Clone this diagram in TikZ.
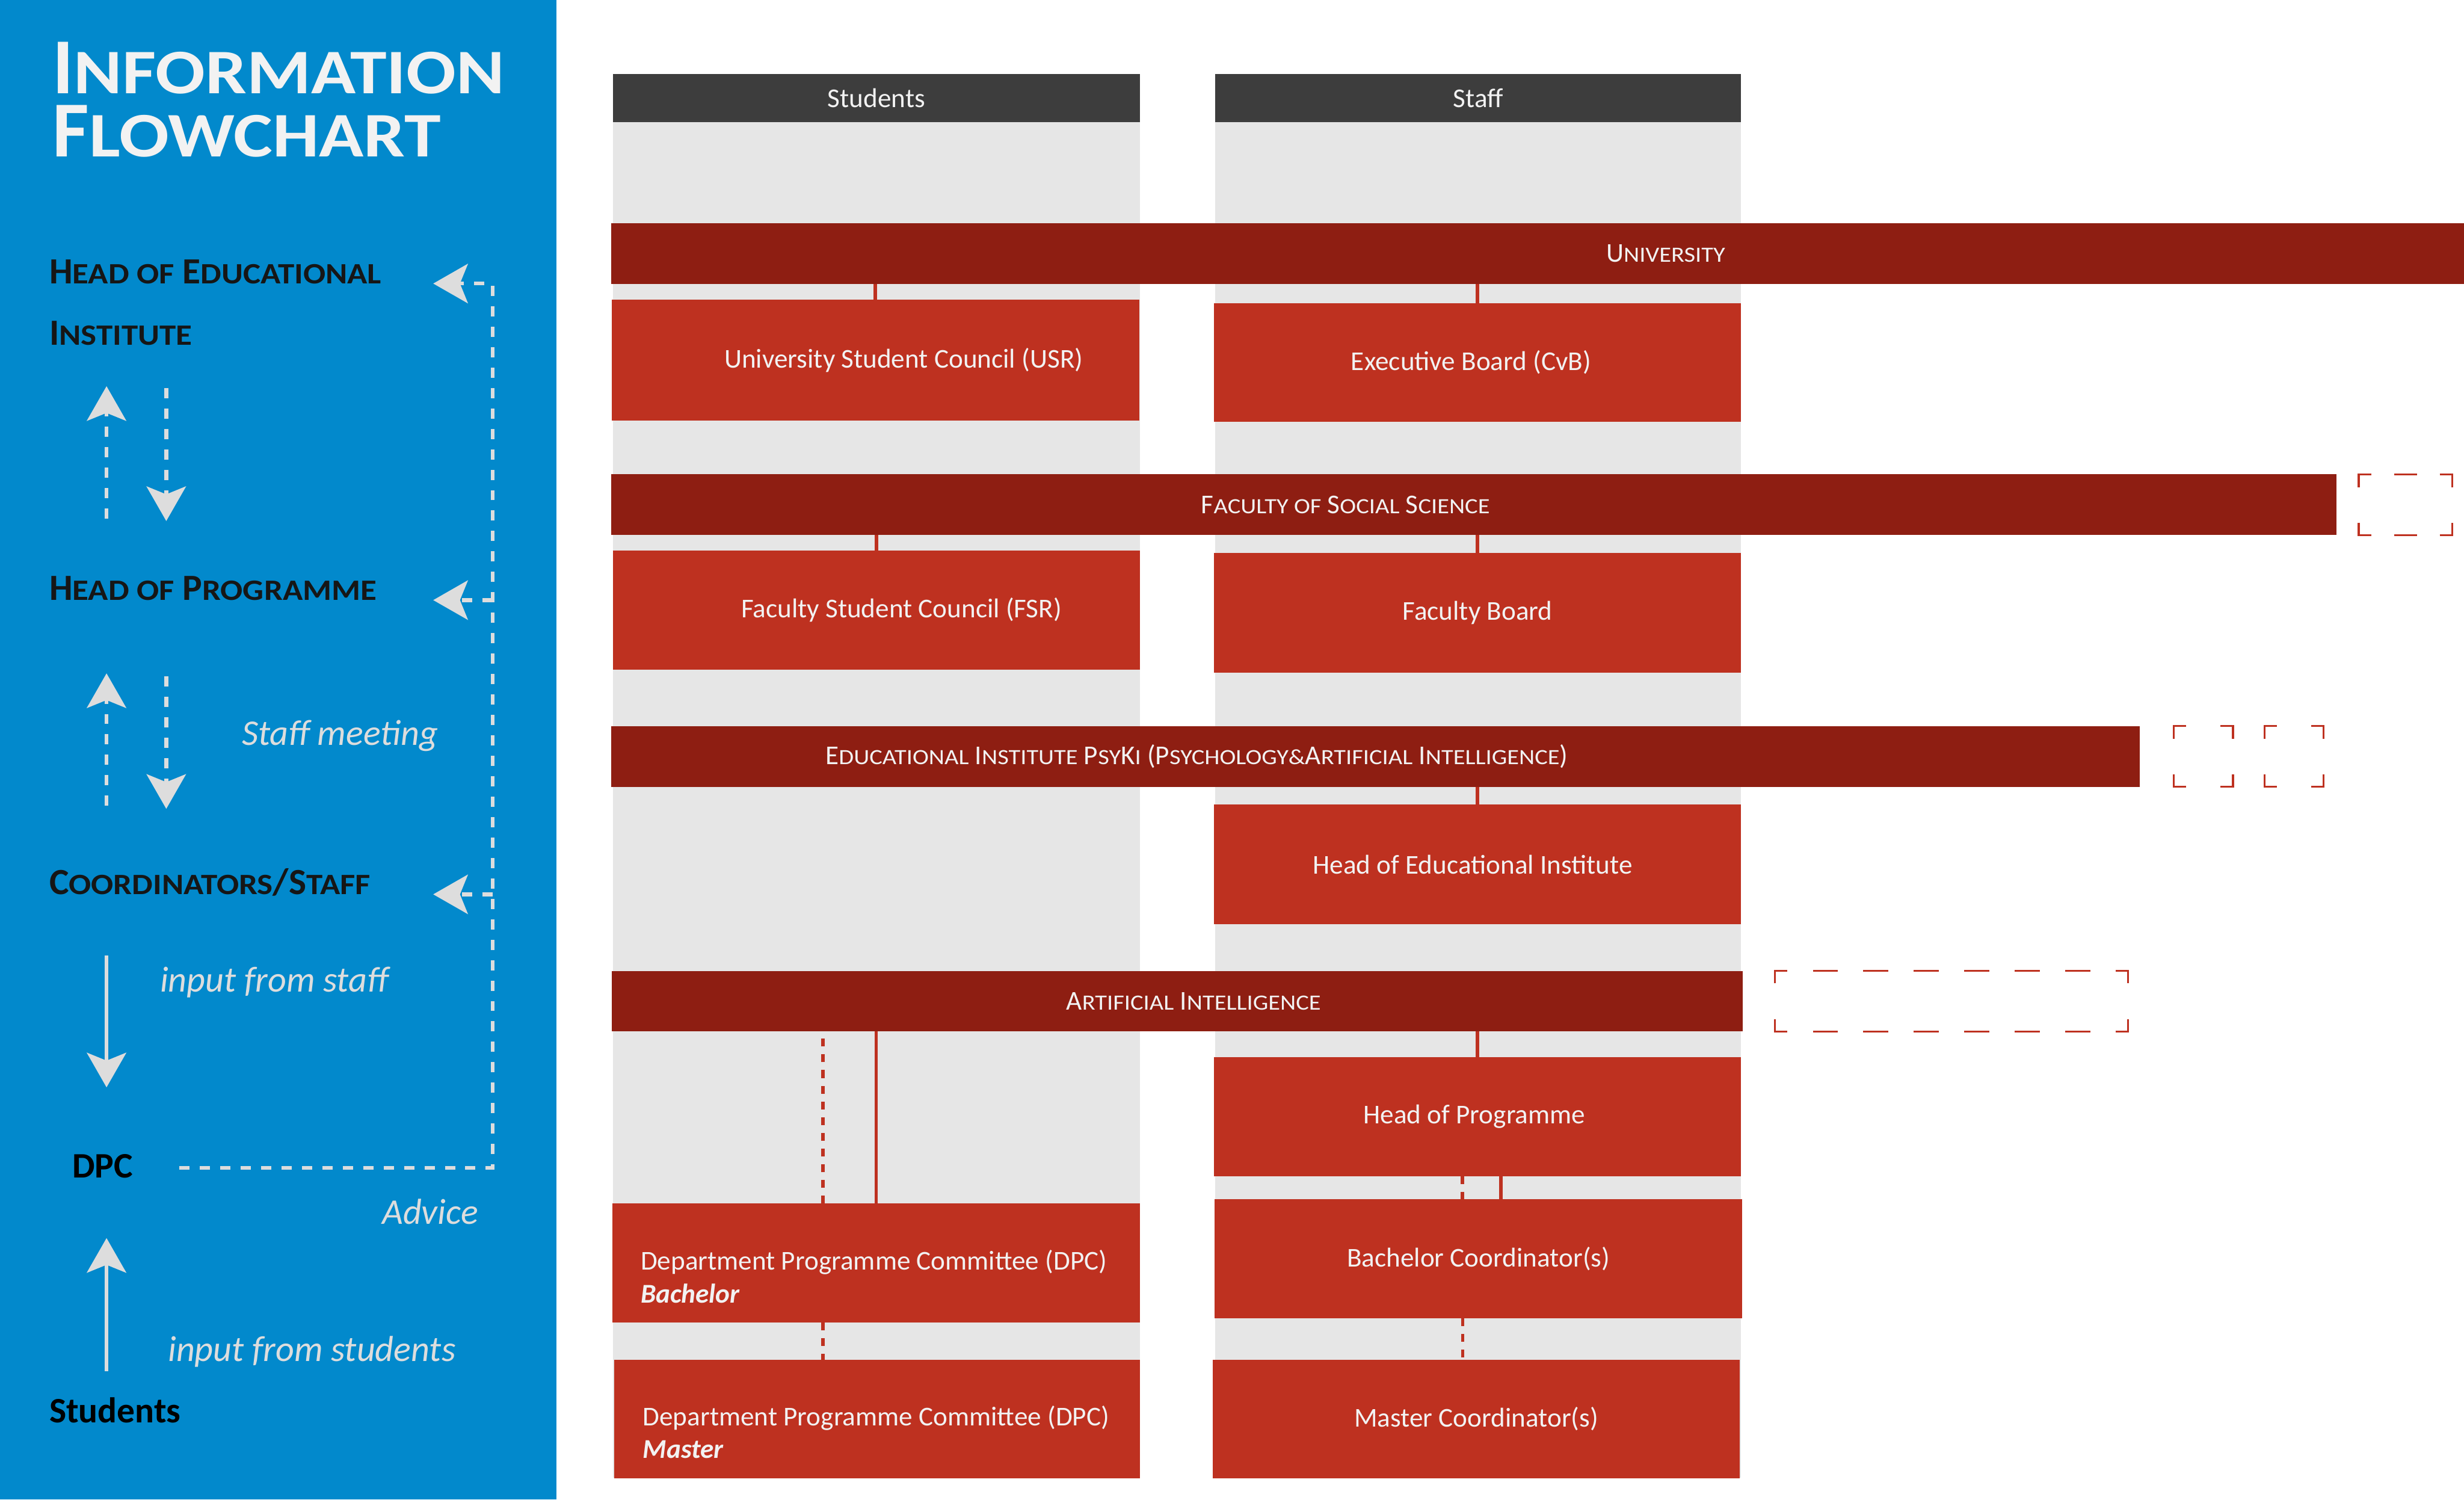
\documentclass[tikz,border=0pt]{standalone}
\usepackage{fontspec}
\setmainfont{Carlito}
\newfontfamily\scfont[FakeStretch=1.12]{Carlito}
\newfontfamily\scfontT[FakeStretch=1.16]{Carlito}
\usetikzlibrary{arrows.meta}
\makeatletter
\newcommand\SC[2]{#1{\scfont\fontsize{\fpeval{0.8*\f@size}}{\fpeval{0.8*\f@size}}\selectfont #2}}
\newcommand\SCT[2]{#1{\scfontT\fontsize{\fpeval{0.8*\f@size}}{20.24}\selectfont #2}}
\makeatother
\definecolor{cBlue}{HTML}{0289CC}
\definecolor{cBar}{HTML}{8E1E12}
\definecolor{cBox}{HTML}{BE3120}
\definecolor{cCol}{HTML}{E6E6E6}
\definecolor{cHdr}{HTML}{3D3D3D}
\definecolor{cTxt}{HTML}{F2F2F2}
\definecolor{cArr}{HTML}{DDDDDD}
\definecolor{cHead}{HTML}{161616}
\newcommand\phcorners[4]{%
  \draw[ph] (#1,{#2+8}) -- (#1,#2) -- ({#1+8},#2);
  \draw[ph] ({#3-8},#2) -- (#3,#2) -- (#3,{#2+8});
  \draw[ph] (#1,{#4-8}) -- (#1,#4) -- ({#1+8},#4);
  \draw[ph] ({#3-8},#4) -- (#3,#4) -- (#3,{#4-8});}
\begin{document}
\begin{tikzpicture}[x=1pt,y=-1pt,
  boxfont/.style={font=\fontsize{17.3}{20}\selectfont},
  colhead/.style={fill=cHdr, text=cTxt, inner sep=0pt, outer sep=0pt, boxfont},
  barn/.style={fill=cBar, inner sep=0pt, outer sep=0pt, minimum height=38.6},
  bartxt/.style={text=cTxt, inner sep=0pt, boxfont},
  rboxn/.style={fill=cBox, text=cTxt, inner sep=0pt, outer sep=0pt, boxfont, minimum width=335.5, minimum height=75.6},
  dpctxt/.style={text=cTxt, inner sep=0pt, anchor=base west, boxfont},
  con/.style={draw=cBox, line width=2.2pt},
  cond/.style={con, dash pattern=on 5pt off 5pt},
  ph/.style={draw=cBox, line width=1.2pt},
  ttl/.style={text=cTxt, inner sep=0pt, anchor=base west, font=\bfseries\fontsize{50.5}{25.3}\selectfont},
  hd/.style={text=cHead, inner sep=0pt, anchor=base west, font=\bfseries\fontsize{23.5}{24}\selectfont},
  hdb/.style={text=black, inner sep=0pt, anchor=base west, font=\bfseries\fontsize{22.8}{24}\selectfont},
  itl/.style={text=cArr, inner sep=0pt, anchor=base west, font=\itshape\fontsize{23}{24}\selectfont},
  arr/.style={draw=cArr, line width=2.4pt, -{Stealth[length=22pt,width=25pt,inset=5pt]}},
  arrd/.style={arr, dash pattern=on 6.5pt off 6.5pt}
]
\useasboundingbox (0,0) rectangle (1568,954);
\fill[white] (0,0) rectangle (1568,954);
\fill[cBlue] (0,0) rectangle (354,954);

% columns
\fill[cCol] (390,77.6) rectangle (725.5,940);
\fill[cCol] (773.3,77.6) rectangle (1108,940);
\node[colhead, minimum width=335.5, minimum height=30.7] (hstu) at (557.75,62.25) {Students};
\node[colhead, minimum width=334.7, minimum height=30.7] (hsta) at (940.65,62.25) {Staff};

% bars
\node[barn, minimum width=1179, label={[bartxt, xshift=81.5pt]center:\SC{U}{NIVERSITY}}] (uni) at (978.5,161.3) {};
\node[barn, minimum width=1097.7, label={[bartxt, xshift=-81.6pt]center:\SC{F}{ACULTY OF} \SC{S}{OCIAL} \SC{S}{CIENCE}}] (fac) at (937.85,321.1) {};
\node[barn, minimum width=972.5, label={[bartxt, xshift=-113.7pt]center:\SC{E}{DUCATIONAL} \SC{I}{NSTITUTE} \SC{P}{SY}\SC{K}{I} (\SC{P}{SYCHOLOGY\&}\SC{A}{RTIFICIAL} \SC{I}{NTELLIGENCE})}] (edu) at (875.25,481.25) {};
\node[barn, minimum width=719.5, label={[bartxt, xshift=10.3pt]center:\SC{A}{RTIFICIAL} \SC{I}{NTELLIGENCE}}] (ai) at (749.25,637) {};

% boxes
\node[rboxn, minimum height=77] (usr) at (557.1,229) {\hspace*{36pt}\raisebox{-5pt}{University Student Council (USR)}};
\node[rboxn] (cvb) at (940.2,230.6) {Executive Board (CvB)\hspace*{8pt}};
\node[rboxn] (fsr) at (557.7,388.2) {\hspace*{32pt}Faculty Student Council (FSR)};
\node[rboxn, minimum height=75.9] (fb) at (940.2,389.9) {Faculty Board};
\node[rboxn, minimum height=76] (hoei) at (940.2,550) {Head of Educational Institute\hspace*{6pt}};
\node[rboxn] (hop) at (940.2,710.4) {Head of Programme\hspace*{4pt}};
\node[rboxn] (bc) at (940.8,800.8) {Bachelor Coordinator(s)};
\node[rboxn] (mc) at (939.4,902.8) {Master Coordinator(s)};
\node[rboxn] (dpcb) at (557.6,803.6) {};
\node[rboxn, minimum width=334.6] (dpcm) at (558.3,902.8) {};
\node[dpctxt] (dpcb1) at (407.5,808) {Department Programme Committee (DPC)};
\node[dpctxt, font=\bfseries\itshape\fontsize{17.3}{20}\selectfont] (dpcb2) at (407.5,829) {Bachelor};
\node[dpctxt] (dpcm1) at (408.9,907) {Department Programme Committee (DPC)};
\node[dpctxt, font=\bfseries\itshape\fontsize{17.3}{20}\selectfont] (dpcm2) at (408.9,927.6) {Master};

% connectors
\draw[con] (usr.north) -- (usr.north |- uni.south);
\draw[con] (cvb.north) -- (cvb.north |- uni.south);
\draw[con] (fsr.north) -- (fsr.north |- fac.south);
\draw[con] (fb.north) -- (fb.north |- fac.south);
\draw[con] (hoei.north) -- (hoei.north |- edu.south);
\draw[con] (hop.north) -- (hop.north |- ai.south);
\draw[con] (dpcb.north) -- (dpcb.north |- ai.south);
\coordinate (dB) at ([xshift=-34pt]dpcb.north);
\draw[cond] (dB) -- (dB |- ai.south);
\coordinate (dB2) at ([xshift=-34pt]dpcb.south);
\draw[cond] (dB2) -- (dB2 |- dpcm.north);
\coordinate (hpD) at ([xshift=-9.5pt]hop.south);
\draw[cond] (hpD) -- (hpD |- bc.north);
\coordinate (hpS) at ([xshift=15pt]hop.south);
\draw[con] (hpS) -- (hpS |- bc.north);
\coordinate (bcD) at ([xshift=-10pt]bc.south);
\draw[cond] (bcD) -- (bcD |- mc.north);

% placeholder boxes
\phcorners{1501}{302}{1560.5}{340.5}
\draw[ph] (1523.6,302) -- (1538,302);
\draw[ph] (1523.6,340.5) -- (1538,340.5);
\phcorners{1383.2}{462}{1421}{500.5}
\phcorners{1441}{462}{1478.6}{500.5}
\phcorners{1129.5}{617.6}{1354.3}{656.4}
\foreach \i in {0,...,5}{
  \draw[ph] ({1153.6+32.1*\i},617.6) -- ({1169.6+32.1*\i},617.6);
  \draw[ph] ({1153.6+32.1*\i},656.4) -- ({1169.6+32.1*\i},656.4);
}

% left panel texts
\node[ttl] (title) at (33.4,59.4) {\begin{tabular}[t]{@{}l@{}}\SCT{I}{NFORMATION}\\\SCT{F}{LOWCHART}\end{tabular}};
\node[hd] (lhe1) at (31.2,180.4) {\SC{H}{EAD OF} \SC{E}{DUCATIONAL}};
\node[hd] (lhe2) at (31.2,219.5) {\SC{I}{NSTITUTE}};
\node[hd] (lhp) at (31.2,381.8) {\SC{H}{EAD OF} \SC{P}{ROGRAMME}};
\node[hd] (lcs) at (31.2,569) {\SC{C}{OORDINATORS}/\SC{S}{TAFF}};
\node[hdb] (ldpc) at (45.9,749.2) {DPC};
\node[hdb] (lstu) at (31.2,905.3) {Students};
\node[itl] (lsm) at (153.7,474) {Staff meeting};
\node[itl] (lifs) at (101.7,631) {input from staff};
\node[itl] (ladv) at (243,778.8) {Advice};
\node[itl] (lifst) at (106.7,866) {input from students};

% left panel arrows
\coordinate (aHE) at (275.7,180.4);
\coordinate (aHP) at (275.7,381.8);
\coordinate (aCS) at (275.7,569);
\coordinate (vTop) at (313.4,180.4);
\coordinate (vHP) at (313.4,381.8);
\coordinate (vCS) at (313.4,569);
\coordinate (vBot) at (313.4,743);
\coordinate (dpcR) at (114.1,743);
\draw[arrd] (dpcR) -- (vBot) -- (vTop) -- (aHE);
\draw[arrd] (vHP) -- (aHP);
\draw[arrd] (vCS) -- (aCS);

\coordinate (u1a) at (67.8,330);   \coordinate (u1b) at (67.8,245.7);
\coordinate (d1a) at (105.8,246.8); \coordinate (d1b) at (105.8,331.5);
\coordinate (u2a) at (67.8,512.7); \coordinate (u2b) at (67.8,428.4);
\coordinate (d2a) at (105.8,430.4); \coordinate (d2b) at (105.8,514.6);
\coordinate (s1a) at (67.8,607.9); \coordinate (s1b) at (67.8,691.8);
\coordinate (s2a) at (67.8,872.4); \coordinate (s2b) at (67.8,787.7);
\draw[arrd] (u1a) -- (u1b);
\draw[arrd] (d1a) -- (d1b);
\draw[arrd] (u2a) -- (u2b);
\draw[arrd] (d2a) -- (d2b);
\draw[arr] (s1a) -- (s1b);
\draw[arr] (s2a) -- (s2b);
\end{tikzpicture}
\end{document}
